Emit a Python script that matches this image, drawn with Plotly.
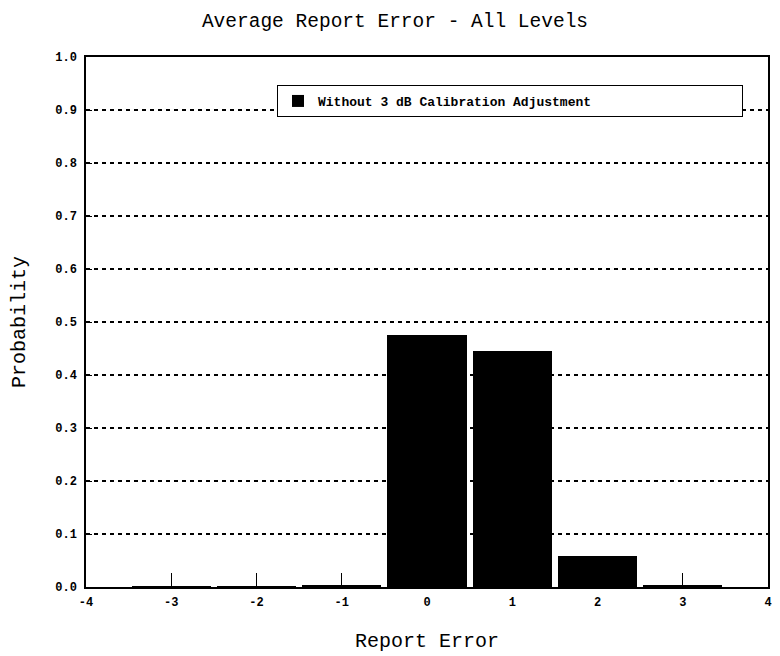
import plotly.graph_objects as go

report_error = [-3, -2, -1, 0, 1, 2, 3]
probability = [0.001, 0.001, 0.004, 0.476, 0.446, 0.058, 0.004]
series_name = "Without 3 dB Calibration Adjustment"
x_ticks = [-4, -3, -2, -1, 0, 1, 2, 3, 4]
y_ticks = [0.0, 0.1, 0.2, 0.3, 0.4, 0.5, 0.6, 0.7, 0.8, 0.9, 1.0]

FONT = "Liberation Mono"
OFF = 8  # page body margin
W, H = 780 - OFF, 656 - OFF
L, R, T, B = 86 - OFF, 768 - OFF, 57 - OFF, 587 - OFF

fig = go.Figure()
fig.add_trace(go.Bar(
    x=report_error, y=probability, name=series_name,
    width=0.93, marker=dict(color="black", line=dict(width=0)),
    showlegend=True,
))

fig.update_layout(
    width=W, height=H,
    paper_bgcolor="white", plot_bgcolor="white",
    margin=dict(l=L, r=W - R, t=T, b=H - B, autoexpand=False),
    font=dict(family=FONT, color="black"),
    title=dict(text="Average Report Error - All Levels", x=(395 - OFF) / W, xanchor="center",
               y=1 - (20 - OFF) / H, yanchor="middle", font=dict(family=FONT, size=19.5)),
    showlegend=True,
    legend=dict(orientation="h", x=(277 - 86) / 682, y=1 - (85 - 57) / 530,
                xanchor="left", yanchor="top",
                bgcolor="white", bordercolor="black", borderwidth=1,
                font=dict(family=FONT, size=13, weight="bold"),
                entrywidth=419, entrywidthmode="pixels"),
    bargap=0,
)
fig.update_xaxes(
    range=[-4, 4], tickvals=x_ticks, ticktext=[str(v) for v in x_ticks],
    showline=True, linecolor="black", linewidth=1.5, mirror=True,
    ticks="inside", ticklen=14, tickcolor="black", tickwidth=1,
    showgrid=False, zeroline=False, automargin=False, ticklabelstandoff=3,
    tickfont=dict(family=FONT, size=12, weight="bold"),
    title=dict(text="Report Error", font=dict(family=FONT, size=20), standoff=24),
)
fig.update_yaxes(
    range=[0, 1], tickvals=y_ticks, ticktext=[f"{v:.1f}" for v in y_ticks],
    showline=True, linecolor="black", linewidth=1.5, mirror=True,
    ticks="inside", ticklen=6, tickcolor="black",
    showgrid=True, gridcolor="black", gridwidth=1.5, griddash="4px,4px",
    zeroline=False, automargin=False, ticklabelstandoff=5,
    tickfont=dict(family=FONT, size=12, weight="bold"),
    title=dict(text="Probability", font=dict(family=FONT, size=20), standoff=30),
)

fig.write_html("out.html")
